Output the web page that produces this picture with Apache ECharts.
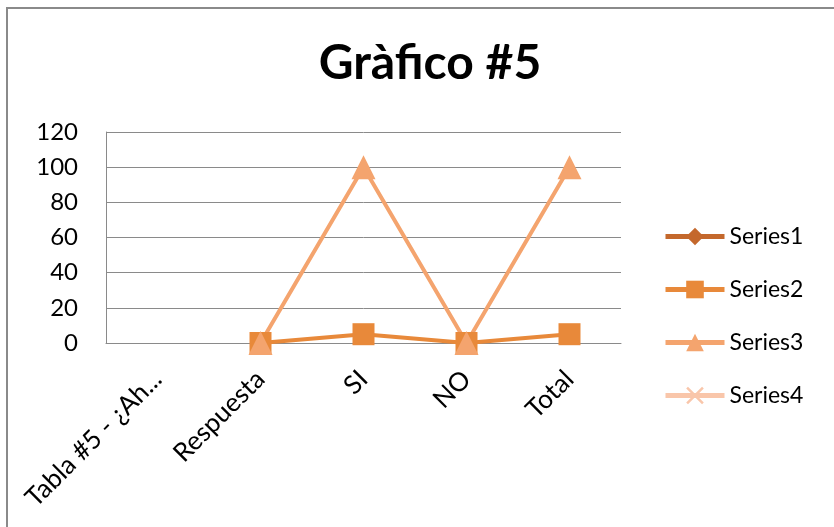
<!DOCTYPE html>
<html><head><meta charset="utf-8">
<script src="https://cdn.jsdelivr.net/npm/echarts@6/dist/echarts.min.js"></script>
<style>html,body{margin:0;padding:0;background:#fff}#c{width:834px;height:527px}</style>
</head><body><div id="c"></div>
<script>
var categories = ['Tabla #5 - ¿Ah...', 'Respuesta', 'SI', 'NO', 'Total'];
var series1 = [null, null, null, null, null];
var series2 = [null, 0, 5, 0, 5];
var series3 = [null, 0, 100, 0, 100];
var series4 = [null, null, null, null, null];
var yTicks = {min: 0, max: 120, interval: 20};
var seriesNames = ['Series1', 'Series2', 'Series3', 'Series4'];

var font = 'Lato, "Open Sans", sans-serif';
var chart = echarts.init(document.getElementById('c'));
var crossPath = 'path://M0,1L1,0L5,4L9,0L10,1L6,5L10,9L9,10L5,6L1,10L0,9L4,5Z';
function mk(name, data, color, symbol, size) {
  return {
    name: name, type: 'line', data: data, symbol: symbol, symbolSize: size,
    lineStyle: {color: color, width: 4}, itemStyle: {color: color},
    showAllSymbol: true, animation: false
  };
}
chart.setOption({
  animation: false,
  title: {text: 'Gràfico #5', left: 425, textAlign: 'center', top: 35,
    textStyle: {fontFamily: font, fontSize: 48, fontWeight: 'bold', color: '#000'}},
  graphic: [{type: 'rect', shape: {x: 7, y: 8, width: 840, height: 540},
    style: {fill: 'none', stroke: '#8a8a8a', lineWidth: 2}, silent: true}],
  grid: {left: 106, right: 213, top: 132, bottom: 184},
  legend: {orient: 'vertical', left: 663, top: 225, itemGap: 30, padding: 0,
    itemWidth: 59, itemHeight: 22,
    lineStyle: {width: 5},
    textStyle: {fontFamily: font, fontSize: 23, color: '#000'},
    data: seriesNames},
  xAxis: {type: 'category', data: categories, boundaryGap: true,
    axisLine: {lineStyle: {color: '#8a8a8a', width: 1}},
    axisTick: {show: false},
    axisLabel: {rotate: 45, interval: 0, fontFamily: font, fontSize: 26, color: '#000', margin: 32}},
  yAxis: {type: 'value', min: yTicks.min, max: yTicks.max, interval: yTicks.interval,
    axisLine: {show: true, lineStyle: {color: '#8a8a8a'}},
    axisTick: {show: false},
    splitLine: {lineStyle: {color: '#8a8a8a', width: 1}},
    axisLabel: {fontFamily: font, fontSize: 24, color: '#000', margin: 28}},
  series: [
    mk(seriesNames[0], series1, '#C4682C', 'diamond', 16),
    mk(seriesNames[1], series2, '#E8893A', 'rect', 22),
    mk(seriesNames[2], series3, '#F4A46E', 'triangle', 24),
    mk(seriesNames[3], series4, '#F9C6AA', crossPath, 18)
  ]
});
</script></body></html>
